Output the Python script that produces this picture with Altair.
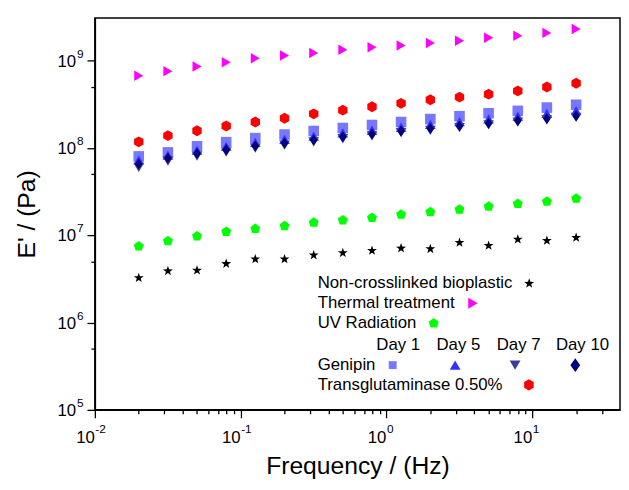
import altair as alt
import pandas as pd

# ---------------- data ----------------
freq = [0.02, 0.0317, 0.0502, 0.0796, 0.126, 0.2, 0.317, 0.502,
        0.796, 1.26, 2.0, 3.17, 5.02, 7.96, 12.6, 20.0]

non_crosslinked = [3.25e6, 3.90e6, 3.97e6, 4.72e6, 5.34e6, 5.34e6, 5.92e6, 6.29e6,
                   6.69e6, 7.11e6, 6.98e6, 8.25e6, 7.63e6, 9.00e6, 8.70e6, 9.40e6]
thermal = [6.76e8, 7.62e8, 8.61e8, 9.64e8, 1.07e9, 1.15e9, 1.23e9, 1.34e9,
           1.43e9, 1.50e9, 1.60e9, 1.70e9, 1.84e9, 1.94e9, 2.09e9, 2.32e9]
uv_radiation = [7.48e6, 8.59e6, 9.79e6, 1.10e7, 1.19e7, 1.28e7, 1.40e7, 1.49e7,
                1.59e7, 1.73e7, 1.85e7, 1.98e7, 2.14e7, 2.30e7, 2.44e7, 2.64e7]
genipin_day1 = [8.03e7, 8.92e7, 1.05e8, 1.17e8, 1.30e8, 1.43e8, 1.57e8, 1.70e8,
                1.84e8, 1.99e8, 2.15e8, 2.32e8, 2.51e8, 2.67e8, 2.91e8, 3.14e8]
genipin_day5 = [7.30e7, 8.30e7, 9.50e7, 1.05e8, 1.16e8, 1.26e8, 1.37e8, 1.49e8,
                1.61e8, 1.74e8, 1.87e8, 2.01e8, 2.16e8, 2.32e8, 2.50e8, 2.68e8]
genipin_day7 = [6.00e7, 7.10e7, 8.10e7, 9.00e7, 1.00e8, 1.08e8, 1.18e8, 1.28e8,
                1.38e8, 1.50e8, 1.60e8, 1.72e8, 1.84e8, 1.98e8, 2.10e8, 2.25e8]
genipin_day10 = [6.58e7, 7.69e7, 8.69e7, 9.57e7, 1.06e8, 1.14e8, 1.24e8, 1.35e8,
                 1.45e8, 1.57e8, 1.68e8, 1.79e8, 1.92e8, 2.06e8, 2.18e8, 2.34e8]
transglutaminase = [1.18e8, 1.39e8, 1.58e8, 1.79e8, 1.99e8, 2.20e8, 2.47e8, 2.72e8,
                    2.98e8, 3.26e8, 3.58e8, 3.84e8, 4.15e8, 4.52e8, 5.02e8, 5.53e8]

series_names = ["Non-crosslinked bioplastic", "Thermal treatment", "UV Radiation",
                "Genipin Day 1", "Genipin Day 5", "Genipin Day 7", "Genipin Day 10",
                "Transglutaminase 0.50%"]
series_values = [non_crosslinked, thermal, uv_radiation, genipin_day1, genipin_day5,
                 genipin_day7, genipin_day10, transglutaminase]

x_major = [0.01, 0.1, 1, 10]
x_major_exp = ["-2", "-1", "0", "1"]
x_minor = [0.02, 0.03, 0.04, 0.05, 0.06, 0.07, 0.08, 0.09,
           0.2, 0.3, 0.4, 0.5, 0.6, 0.7, 0.8, 0.9,
           2, 3, 4, 5, 6, 7, 8, 9, 20, 30]
y_major = [1e5, 1e6, 1e7, 1e8, 1e9]
y_major_exp = ["5", "6", "7", "8", "9"]
y_minor = [5e5, 5e6, 5e7, 5e8]

# ---------------- styles ----------------
FONT = "Liberation Sans"
W, H = 532, 397

STAR = ("M0,-1L0.235,-0.324L0.951,-0.309L0.38,0.124L0.588,0.809L0,0.4"
        "L-0.588,0.809L-0.38,0.124L-0.951,-0.309L-0.235,-0.324Z")
PENT = "M0,-1L0.951,-0.309L0.588,0.809L-0.588,0.809L-0.951,-0.309Z"
HEX = "M0,-1L0.866,-0.5L0.866,0.5L0,1L-0.866,0.5L-0.866,-0.5Z"
DIAM = "M0,-1L0.72,0L0,1L-0.72,0Z"

shapes = [STAR, "triangle-right", PENT, "square", "triangle-up", "triangle-down", DIAM, HEX]
colors = ["#000000", "#ff00ff", "#00ff00", "#7777ff", "#3333ff", "#3c3c9c", "#000080", "#ff0000"]
sizes = [110, 121, 115, 64, 121, 121, 190, 125]

rows = []
for name, vals in zip(series_names, series_values):
    for f, v in zip(freq, vals):
        rows.append({"series": name, "freq": f, "value": v})
df = pd.DataFrame(rows)

major_test = "abs(log(datum.value)/LN10 - round(log(datum.value)/LN10)) < 0.001"

x_scale = alt.Scale(type="log", domain=[0.01, 40], nice=False)
y_scale = alt.Scale(type="log", domain=[1e5, 3.1e9], nice=False)

x_axis = alt.Axis(values=x_major + x_minor, labels=False, grid=False,
                  tickSize={"condition": {"test": major_test, "value": 8}, "value": 4},
                  tickWidth=1.3, tickColor="black", domainColor="black", domainWidth=1.5,
                  title="Frequency / (Hz)", titleFont=FONT, titleFontSize=25,
                  titleFontWeight="normal", titleColor="black",
                  titleX=W / 2, titleY=64, titleAlign="center", titleBaseline="alphabetic")
y_axis = alt.Axis(values=y_major + y_minor, labels=False, grid=False,
                  tickSize={"condition": {"test": major_test, "value": 8}, "value": 4},
                  tickWidth=1.3, tickColor="black", domainColor="black", domainWidth=1.5,
                  title="E' / (Pa)", titleFont=FONT, titleFontSize=25,
                  titleFontWeight="normal", titleColor="black", titleAngle=270,
                  titleX=-69, titleY=H / 2, titleAlign="center", titleBaseline="middle")

points = alt.Chart(df).mark_point(filled=True, opacity=1, strokeWidth=0).encode(
    x=alt.X("freq:Q", scale=x_scale, axis=x_axis),
    y=alt.Y("value:Q", scale=y_scale, axis=y_axis),
    shape=alt.Shape("series:N", scale=alt.Scale(domain=series_names, range=shapes), legend=None),
    color=alt.Color("series:N", scale=alt.Scale(domain=series_names, range=colors), legend=None),
    size=alt.Size("series:N", scale=alt.Scale(domain=series_names, range=sizes), legend=None),
)

ylab = pd.DataFrame({"value": y_major, "exp": y_major_exp})
ylab_base = alt.Chart(ylab).mark_text(font=FONT, fontSize=17, align="right", baseline="middle",
                                      color="black", dy=1).encode(
    y=alt.Y("value:Q", scale=y_scale, axis=y_axis), x=alt.value(-19), text=alt.value("10"))
ylab_exp = alt.Chart(ylab).mark_text(font=FONT, fontSize=12, align="left", baseline="middle",
                                     color="black", dy=-7).encode(
    y=alt.Y("value:Q", scale=y_scale, axis=y_axis), x=alt.value(-18), text="exp:N")

xlab = pd.DataFrame({"freq": x_major, "exp": x_major_exp})
xlab_base = alt.Chart(xlab).mark_text(font=FONT, fontSize=17, align="right", baseline="alphabetic",
                                      color="black").encode(
    x=alt.X("freq:Q", scale=x_scale, axis=x_axis), y=alt.value(H + 34), text=alt.value("10"))
xlab_exp = alt.Chart(xlab).mark_text(font=FONT, fontSize=12, align="left", baseline="alphabetic",
                                     color="black", dx=0.5).encode(
    x=alt.X("freq:Q", scale=x_scale, axis=x_axis), y=alt.value(H + 23), text="exp:N")

# ---------------- legend (inside the plot) ----------------
one = pd.DataFrame({"k": [0]})

def legend_text(txt, x, y, align="left"):
    return alt.Chart(one).mark_text(font=FONT, fontSize=17, align=align, baseline="middle",
                                    color="black").encode(
        x=alt.value(x), y=alt.value(y), text=alt.value(txt))

def legend_sym(idx, x, y):
    return alt.Chart(one).mark_point(filled=True, opacity=1, strokeWidth=0,
                                     shape=shapes[idx], color=colors[idx],
                                     size=sizes[idx]).encode(
        x=alt.value(x), y=alt.value(y))

legend_layers = [
    legend_text("Non-crosslinked bioplastic", 225.7, 269), legend_sym(0, 440, 269),
    legend_text("Thermal treatment", 225.7, 289), legend_sym(1, 383, 289),
    legend_text("UV Radiation", 225.7, 309.3), legend_sym(2, 343.3, 309.3),
    legend_text("Day 1", 307.3, 331.7, "center"), legend_text("Day 5", 368.3, 331.7, "center"),
    legend_text("Day 7", 429.3, 331.7, "center"), legend_text("Day 10", 494, 331.7, "center"),
    legend_text("Genipin", 225.7, 351.7),
    legend_sym(3, 301.7, 351.7), legend_sym(4, 365, 351.7),
    legend_sym(5, 425.7, 351.7), legend_sym(6, 486.7, 351.7),
    legend_text("Transglutaminase 0.50%", 225.7, 371.7), legend_sym(7, 439.7, 371.7),
]

chart = alt.layer(points, ylab_base, ylab_exp, xlab_base, xlab_exp, *legend_layers).properties(
    width=W, height=H,
    autosize=alt.AutoSizeParams(type="none"),
    padding={"left": 88, "top": 7, "right": 1, "bottom": 70},
    background="white",
).configure_view(stroke="black", strokeWidth=1.5)

chart.save("out.html", embed_options={"renderer": "svg", "actions": False})
